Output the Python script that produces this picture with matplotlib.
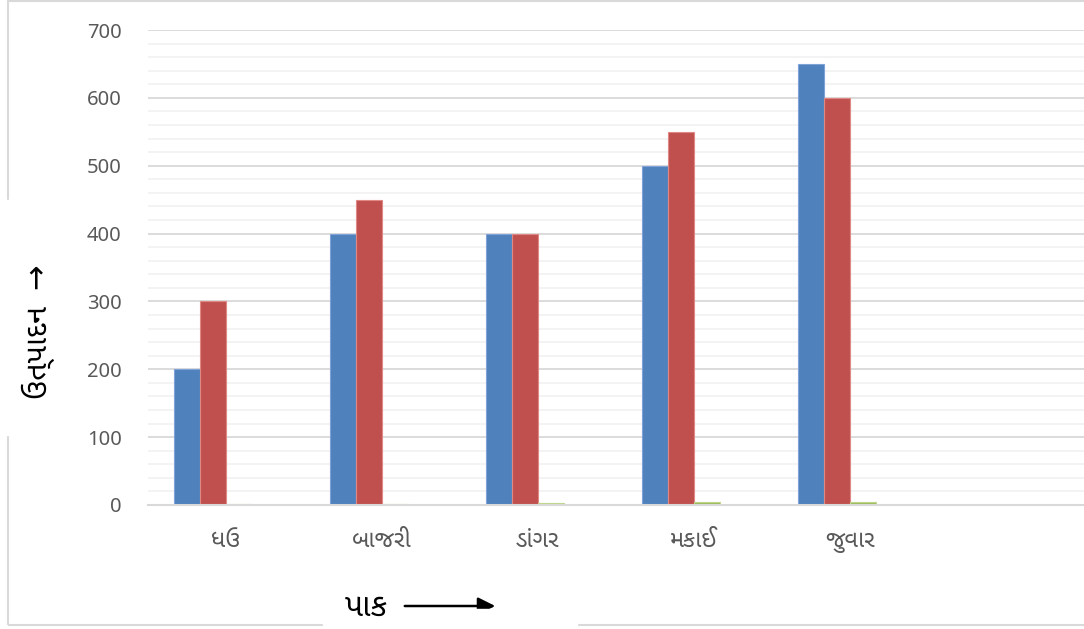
import matplotlib
matplotlib.use("Agg")
import matplotlib.pyplot as plt
from matplotlib.patches import Rectangle
import numpy as np

# data
crops = ["ધઉ", "બાજરી", "ડાંગર", "મકાઈ", "જુવાર", ""]
series1 = [200, 400, 400, 500, 650, 0]
series2 = [300, 450, 400, 550, 600, 0]
series3 = [1, 1, 2.5, 4, 5, 0]
series4 = [0, 0, 0, 0, 0, 0]
colors = ["#4F81BD", "#C0504D", "#9BBB59", "#8064A2"]
edges = ["#7FA3D6", "#E08886", "#BFD68A", "#A58FC4"]

plt.rcParams["font.family"] = ["Noto Sans", "Noto Sans Gujarati", "DejaVu Sans"]

fig = plt.figure(figsize=(10.84, 6.29), dpi=100)
ax = fig.add_axes([148 / 1084, 124 / 629, 936 / 1084, 475 / 629])

x = np.arange(len(crops))
w = 1 / 6
for i, vals in enumerate([series1, series2, series3, series4]):
    ax.bar(x + (i - 1.5) * w, vals, width=w, color=colors[i],
           edgecolor=edges[i], linewidth=0.8, zorder=3)

ax.set_xlim(-0.5, len(crops) - 0.5)
ax.set_ylim(0, 700)
ax.set_yticks(np.arange(0, 701, 100))
ax.set_yticks(np.arange(0, 701, 20), minor=True)
ax.grid(axis="y", which="major", color="#D9D9D9", linewidth=1.3, zorder=0)
ax.grid(axis="y", which="minor", color="#F2F2F2", linewidth=1.3, zorder=0)
ax.set_xticks(x)
ax.set_xticklabels(crops, fontsize=17)
ax.tick_params(axis="both", which="both", length=0, labelcolor="#595959")
ax.tick_params(axis="y", labelsize=14.5, pad=19)
ax.tick_params(axis="x", pad=17)
for s in ["top", "right", "left"]:
    ax.spines[s].set_visible(False)
ax.spines["bottom"].set_color("#D9D9D9")
ax.spines["bottom"].set_linewidth(1.5)
ax.spines["bottom"].set_zorder(4)

# chart border with the gaps behind the axis titles
fig.patches.append(Rectangle((8 / 1084, 4 / 629), 1, 624 / 629,
                             transform=fig.transFigure, fill=False,
                             edgecolor="#D9D9D9", linewidth=1.5))
fig.patches.append(Rectangle((0, 194 / 629), 30 / 1084, 235 / 629,
                             transform=fig.transFigure, color="white"))
fig.patches.append(Rectangle((323 / 1084, 0), 254 / 1084, 20 / 629,
                             transform=fig.transFigure, color="white"))

fig.text(38 / 1084, 297 / 629, "ઉત્પાદન  →", rotation=90, fontsize=22,
         ha="center", va="center", color="black")
fig.text(366 / 1084, 22 / 629, "પાક", fontsize=23, ha="center",
         va="center", color="black")
ax.annotate("", xy=(498 / 1084, 23 / 629), xytext=(402 / 1084, 23 / 629),
            xycoords="figure fraction", textcoords="figure fraction",
            arrowprops=dict(arrowstyle="-|>", color="black", lw=1.8,
                            mutation_scale=26))

fig.savefig("out.png", dpi=100)
